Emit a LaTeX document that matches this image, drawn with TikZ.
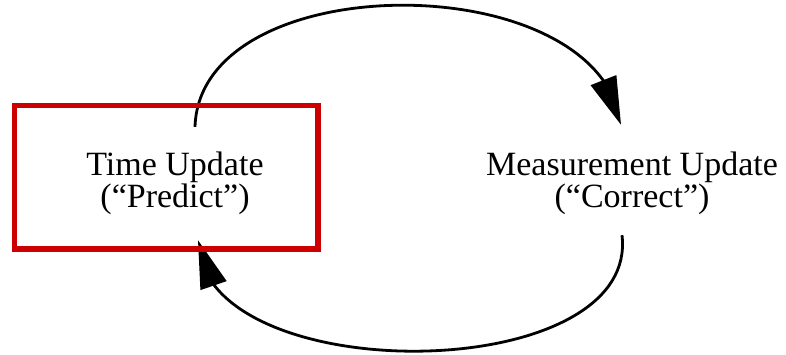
\documentclass[tikz,border=0pt]{standalone}
\usepackage{fontspec}
\setmainfont{Liberation Serif}
\usetikzlibrary{arrows.meta,bending}
\definecolor{boxred}{RGB}{204,0,0}
\begin{document}
\begin{tikzpicture}[x=1pt,y=-1pt,
  lbl/.style={align=center,font=\fontsize{34}{32}\selectfont,inner sep=0pt,minimum height=112pt,minimum width=200pt},
  conn/.style={line width=2.8pt,-{Triangle[length=48pt,width=27pt,flex]}},
  frame/.style={draw=boxred,line width=5.7pt,inner sep=0pt}]
\useasboundingbox (0,0) rectangle (786,354);
\node[lbl] (tu) at (175,183) {Time Update\\(“Predict”)};
\node[lbl] (mu) at (632,183) {Measurement Update\\(“Correct”)};
\draw[conn] ([xshift=20pt]tu.north) .. controls (200,-35) and (600,-35) .. ([xshift=-11pt,yshift=2pt]mu.north);
\draw[conn] ([xshift=-10pt,yshift=4pt]mu.south) .. controls (640,388) and (200,390) .. ([xshift=23pt,yshift=-1pt]tu.south);
\node[frame,minimum width=303.5pt,minimum height=143.2pt] (box) at (166.25,177.1) {};
\end{tikzpicture}
\end{document}
